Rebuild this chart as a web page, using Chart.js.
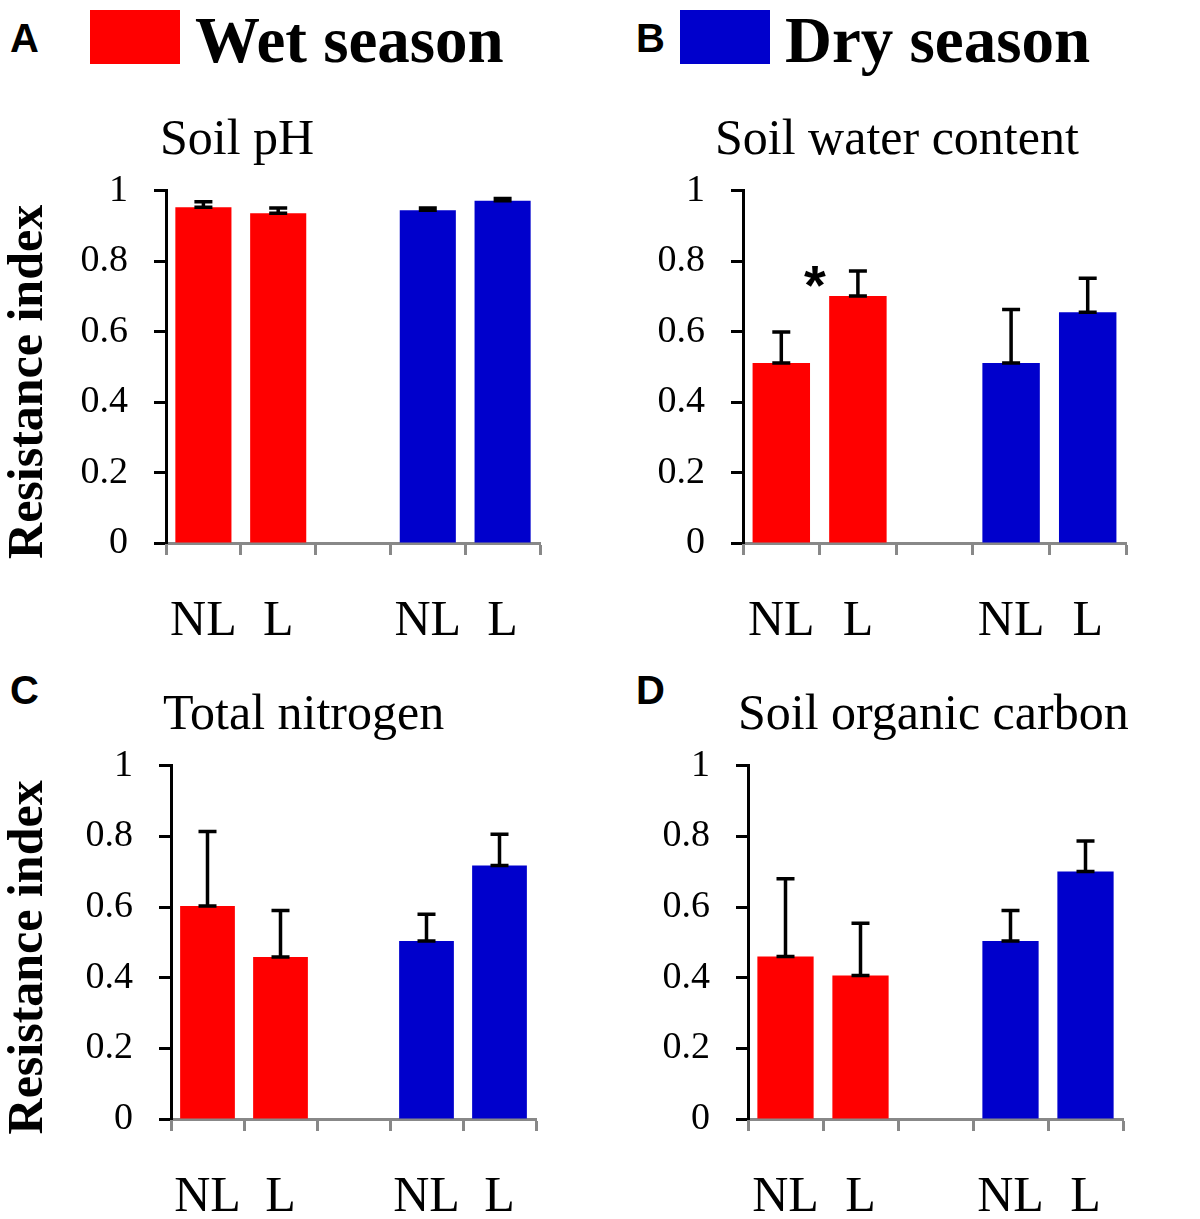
<!DOCTYPE html>
<html>
<head>
<meta charset="utf-8">
<script src="https://cdn.jsdelivr.net/npm/chart.js@4/dist/chart.umd.min.js"></script>
<style>
  body { margin: 0; background: #fff; width: 1200px; height: 1219px; position: relative; overflow: hidden; }
  .abs { position: absolute; white-space: nowrap; color: #000; }
  .letter { font-family: "Liberation Sans", Arial, sans-serif; font-weight: bold; font-size: 40px; line-height: 1; }
  .legtext { font-family: "Liberation Serif", "Times New Roman", serif; font-weight: bold; font-size: 65px; line-height: 1; }
  .swatch { position: absolute; width: 90px; height: 54px; }
  .ptitle { font-family: "Liberation Serif", "Times New Roman", serif; font-size: 50px; line-height: 1; }
  canvas { position: absolute; }
</style>
</head>
<body>
<div class="abs letter" style="left:10px;top:18px">A</div>
<div class="abs letter" style="left:636px;top:18px">B</div>
<div class="abs letter" style="left:10px;top:670px">C</div>
<div class="abs letter" style="left:636px;top:670px">D</div>

<div class="swatch" style="left:90px;top:10px;background:#ff0000"></div>
<div class="abs legtext" style="left:195px;top:8px">Wet season</div>
<div class="swatch" style="left:680px;top:10px;background:#0000cc"></div>
<div class="abs legtext" style="left:785px;top:8px">Dry season</div>

<div class="abs ptitle" style="left:160px;top:112px">Soil pH</div>
<div class="abs ptitle" style="left:715px;top:112px">Soil water content</div>
<div class="abs ptitle" style="left:163px;top:687px">Total nitrogen</div>
<div class="abs ptitle" style="left:738px;top:687px">Soil organic carbon</div>

<canvas id="chartA" width="600" height="508" style="left:0;top:142px"></canvas>
<canvas id="chartB" width="600" height="508" style="left:600px;top:142px"></canvas>
<canvas id="chartC" width="600" height="502" style="left:0;top:717px"></canvas>
<canvas id="chartD" width="600" height="502" style="left:600px;top:717px"></canvas>

<script>
// categories: wet NL, wet L, gap, dry NL, dry L
const categories = ['NL', 'L', '', 'NL', 'L'];
const barColors = ['#ff0000', '#ff0000', '#ffffff', '#0000cc', '#0000cc'];

// resistance index means and upper error (SE)
const phMean = [0.953, 0.936, null, 0.945, 0.972];
const phErr = [0.016, 0.015, null, 0.006, 0.006];

const waterMean = [0.511, 0.701, null, 0.511, 0.655];
const waterErr = [0.088, 0.071, null, 0.152, 0.097];
const waterSig = ['', '*', '', '', ''];

const nitroMean = [0.603, 0.459, null, 0.504, 0.718];
const nitroErr = [0.211, 0.131, null, 0.076, 0.088];

const carbonMean = [0.460, 0.406, null, 0.504, 0.701];
const carbonErr = [0.220, 0.148, null, 0.086, 0.086];

const yMin = 0, yMax = 1, yStep = 0.2;
const yTitle = 'Resistance index';

const errorBars = {
  id: 'errorBars',
  afterDatasetsDraw(chart, args, opts) {
    const ctx = chart.ctx;
    const meta = chart.getDatasetMeta(0);
    const y = chart.scales.y;
    ctx.save();
    ctx.strokeStyle = '#000';
    ctx.lineWidth = 3.5;
    meta.data.forEach(function(bar, i) {
      const m = opts.mean[i], e = opts.err[i];
      if (m == null || e == null) return;
      const y0 = y.getPixelForValue(m);
      const y1 = y.getPixelForValue(m + e);
      const half = 9;
      ctx.beginPath();
      ctx.moveTo(bar.x, y0); ctx.lineTo(bar.x, y1);
      ctx.moveTo(bar.x - half, y1); ctx.lineTo(bar.x + half, y1);
      ctx.moveTo(bar.x - half, y0); ctx.lineTo(bar.x + half, y0);
      ctx.stroke();
      if (opts.sig && opts.sig[i]) {
        ctx.fillStyle = '#000';
        ctx.font = 'bold 56px "Liberation Sans", Arial, sans-serif';
        ctx.textAlign = 'center';
        ctx.textBaseline = 'alphabetic';
        ctx.fillText(opts.sig[i], bar.x - 43, y1 + 33);
      }
    });
    // rotated y-axis title, a little below the plot centre as in the original
    if (opts.showTitle) {
      const a = chart.chartArea;
      ctx.translate(42, (a.top + a.bottom) / 2 + 15);
      ctx.rotate(-Math.PI / 2);
      ctx.fillStyle = '#000';
      ctx.font = 'bold 50px "Liberation Serif", "Times New Roman", serif';
      ctx.textAlign = 'center';
      ctx.textBaseline = 'alphabetic';
      ctx.fillText(yTitle, 0, 0);
    }
    ctx.restore();
  }
};

function makeChart(id, mean, err, sig, box) {
  return new Chart(document.getElementById(id), {
    type: 'bar',
    data: {
      labels: categories,
      datasets: [{
        data: mean,
        backgroundColor: barColors,
        borderWidth: 0,
        barPercentage: 0.75,
        categoryPercentage: 1
      }]
    },
    options: {
      responsive: false,
      animation: false,
      devicePixelRatio: 1,
      layout: { padding: { left: 0, top: box.top, right: box.right, bottom: box.bottom } },
      plugins: {
        legend: { display: false },
        tooltip: { enabled: false },
        errorBars: { mean: mean, err: err, sig: sig, showTitle: box.yTitle }
      },
      scales: {
        x: {
          afterFit: function(s) { s.height = 100; },
          border: { color: '#888888', width: 3 },
          grid: { drawOnChartArea: false, tickLength: 12, tickColor: '#888888', tickWidth: 3 },
          ticks: {
            color: '#000',
            padding: 37,
            maxRotation: 0,
            autoSkip: false,
            font: { family: '"Liberation Serif", "Times New Roman", serif', size: 50 }
          }
        },
        y: {
          min: yMin,
          max: yMax,
          afterFit: function(s) { s.width = box.left; },
          border: { color: '#000', width: 3 },
          grid: { drawOnChartArea: false, tickLength: 12, tickColor: '#000', tickWidth: 3 },
          ticks: {
            stepSize: yStep,
            color: '#000',
            padding: 26,
            font: { family: '"Liberation Serif", "Times New Roman", serif', size: 38 },
            callback: function(v) { return String(+v.toFixed(1)); }
          }
        }
      }
    },
    plugins: [errorBars]
  });
}

makeChart('chartA', phMean, phErr, null, { left: 166, right: 60, top: 20, bottom: 7, yTitle: true });
makeChart('chartB', waterMean, waterErr, waterSig, { left: 143, right: 74, top: 23, bottom: 7, yTitle: false });
makeChart('chartC', nitroMean, nitroErr, null, { left: 171, right: 64, top: 20, bottom: 0, yTitle: true });
makeChart('chartD', carbonMean, carbonErr, null, { left: 148, right: 77, top: 20, bottom: 0, yTitle: false });
</script>
</body>
</html>
